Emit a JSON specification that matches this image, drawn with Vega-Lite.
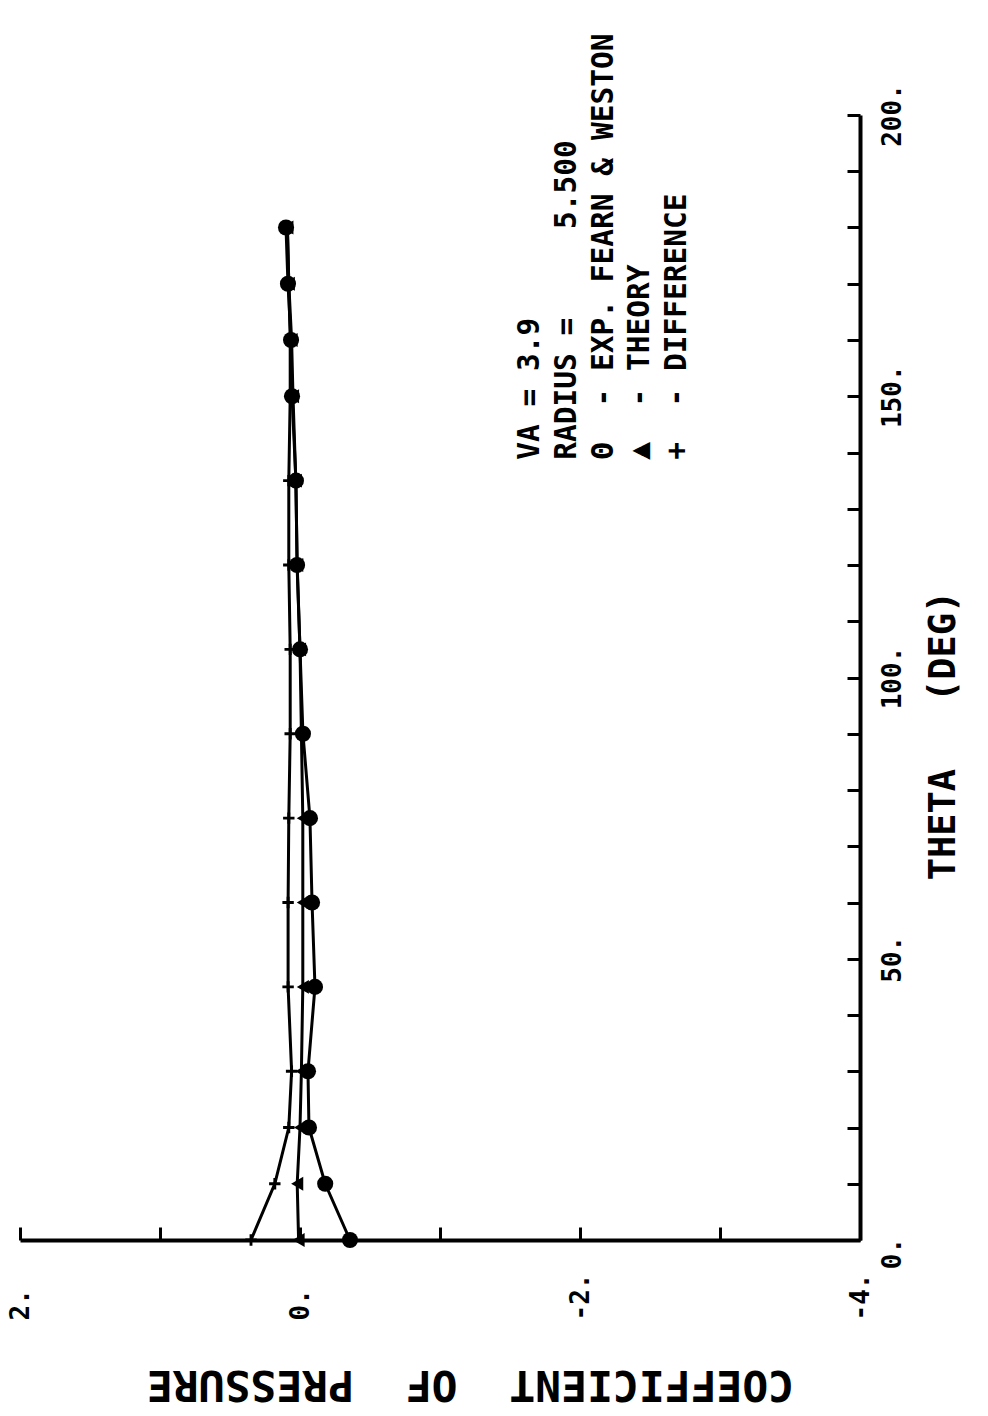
{
  "$schema": "https://vega.github.io/schema/vega-lite/v6.json",
  "width": 840,
  "height": 1125,
  "autosize": {"type": "none"},
  "padding": {"left": 20, "top": 115, "right": 128, "bottom": 176},
  "background": "white",
  "config": {"view": {"stroke": null}, "font": "DejaVu Sans Mono"},
  "datasets": {
    "cp": [
      {"theta": 0, "series": "exp", "cp": -0.357},
      {"theta": 10, "series": "exp", "cp": -0.18},
      {"theta": 20, "series": "exp", "cp": -0.064},
      {"theta": 30, "series": "exp", "cp": -0.057},
      {"theta": 45, "series": "exp", "cp": -0.107},
      {"theta": 60, "series": "exp", "cp": -0.086},
      {"theta": 75, "series": "exp", "cp": -0.071},
      {"theta": 90, "series": "exp", "cp": -0.021},
      {"theta": 105, "series": "exp", "cp": 0.0},
      {"theta": 120, "series": "exp", "cp": 0.021},
      {"theta": 135, "series": "exp", "cp": 0.029},
      {"theta": 150, "series": "exp", "cp": 0.057},
      {"theta": 160, "series": "exp", "cp": 0.064},
      {"theta": 170, "series": "exp", "cp": 0.086},
      {"theta": 180, "series": "exp", "cp": 0.1},
      {"theta": 0, "series": "theory", "cp": 0.01},
      {"theta": 10, "series": "theory", "cp": 0.02},
      {"theta": 20, "series": "theory", "cp": 0.0},
      {"theta": 30, "series": "theory", "cp": -0.01},
      {"theta": 45, "series": "theory", "cp": -0.02},
      {"theta": 60, "series": "theory", "cp": -0.02},
      {"theta": 75, "series": "theory", "cp": -0.02},
      {"theta": 90, "series": "theory", "cp": -0.01},
      {"theta": 105, "series": "theory", "cp": 0.0},
      {"theta": 120, "series": "theory", "cp": 0.02},
      {"theta": 135, "series": "theory", "cp": 0.03},
      {"theta": 150, "series": "theory", "cp": 0.05},
      {"theta": 160, "series": "theory", "cp": 0.06},
      {"theta": 170, "series": "theory", "cp": 0.08},
      {"theta": 180, "series": "theory", "cp": 0.09},
      {"theta": 0, "series": "diff", "cp": 0.35},
      {"theta": 10, "series": "diff", "cp": 0.18},
      {"theta": 20, "series": "diff", "cp": 0.08},
      {"theta": 30, "series": "diff", "cp": 0.06},
      {"theta": 45, "series": "diff", "cp": 0.085},
      {"theta": 60, "series": "diff", "cp": 0.085},
      {"theta": 75, "series": "diff", "cp": 0.08},
      {"theta": 90, "series": "diff", "cp": 0.07},
      {"theta": 105, "series": "diff", "cp": 0.07},
      {"theta": 120, "series": "diff", "cp": 0.08},
      {"theta": 135, "series": "diff", "cp": 0.08},
      {"theta": 150, "series": "diff", "cp": 0.07},
      {"theta": 160, "series": "diff", "cp": 0.07},
      {"theta": 170, "series": "diff", "cp": 0.08},
      {"theta": 180, "series": "diff", "cp": 0.09}
    ],
    "note": [
      {"line": 0, "label": "VA = 3.9"},
      {"line": 1, "label": "RADIUS =\u00a0\u00a0\u00a0\u00a0\u00a05.500"},
      {"line": 2, "label": "Θ\u00a0\u00a0- EXP. FEARN & WESTON"},
      {"line": 3, "label": "▲\u00a0\u00a0- THEORY"},
      {"line": 4, "label": "+\u00a0\u00a0- DIFFERENCE"}
    ]
  },
  "layer": [
    {
      "data": {"name": "cp"},
      "mark": {"type": "line", "color": "black", "strokeWidth": 3},
      "encoding": {
        "x": {
          "field": "cp",
          "type": "quantitative",
          "scale": {"domain": [-4, 2], "reverse": true, "nice": false, "zero": false},
          "axis": {
            "orient": "bottom",
            "values": [-4, -3, -2, -1, 0, 1, 2],
            "labelExpr": "datum.value % 2 == 0 ? datum.value + '.' : ''",
            "labelAngle": 270,
            "labelAlign": "left",
            "labelBaseline": "middle",
            "labelPadding": 93,
            "labelOverlap": false,
            "labelBound": false,
            "labelFlush": false,
            "labelFont": "DejaVu Sans Mono",
            "labelFontSize": 26,
            "labelFontWeight": "bold",
            "labelColor": "black",
            "tickSize": -13,
            "tickWidth": 3,
            "tickColor": "black",
            "domainColor": "black",
            "domainWidth": 4,
            "grid": false,
            "title": "COEFFICIENT\u00a0\u00a0OF\u00a0\u00a0PRESSURE",
            "titleAngle": 180,
            "titleX": 450,
            "titleY": 143,
            "titleAlign": "center",
            "titleBaseline": "middle",
            "titleFont": "DejaVu Sans Mono",
            "titleFontSize": 43,
            "titleFontWeight": "bold",
            "titleColor": "black"
          }
        },
        "y": {
          "field": "theta",
          "type": "quantitative",
          "scale": {"domain": [0, 200], "nice": false, "zero": false},
          "axis": {
            "orient": "right",
            "values": [0, 10, 20, 30, 40, 50, 60, 70, 80, 90, 100, 110, 120, 130, 140, 150, 160, 170, 180, 190, 200],
            "labelExpr": "datum.value % 50 == 0 ? datum.value + '.' : ''",
            "labelAngle": 270,
            "labelAlign": "center",
            "labelBaseline": "top",
            "labelPadding": 32,
            "labelOffset": {"condition": {"test": "datum.value == 0", "value": 13}, "value": 0},
            "labelOverlap": false,
            "labelBound": false,
            "labelFlush": false,
            "labelFont": "DejaVu Sans Mono",
            "labelFontSize": 26,
            "labelFontWeight": "bold",
            "labelColor": "black",
            "tickSize": -13,
            "tickWidth": 3,
            "tickColor": "black",
            "domainColor": "black",
            "domainWidth": 4,
            "grid": false,
            "title": "THETA\u00a0\u00a0\u00a0(DEG)",
            "titleAngle": 270,
            "titleX": 83,
            "titleY": 620,
            "titleAlign": "center",
            "titleBaseline": "middle",
            "titleFont": "DejaVu Sans Mono",
            "titleFontSize": 37,
            "titleFontWeight": "bold",
            "titleColor": "black"
          }
        },
        "detail": {"field": "series"},
        "order": {"field": "theta"}
      }
    },
    {
      "data": {"name": "cp"},
      "mark": {"type": "point", "filled": true, "color": "black", "opacity": 1},
      "encoding": {
        "x": {"field": "cp", "type": "quantitative"},
        "y": {"field": "theta", "type": "quantitative"},
        "shape": {
          "field": "series",
          "scale": {
            "domain": ["exp", "theory", "diff"],
            "range": ["circle", "triangle-left", "M-1,-0.25H1V0.25H-1Z M-0.25,-1H0.25V1H-0.25Z"]
          },
          "legend": null
        },
        "size": {
          "field": "series",
          "type": "nominal",
          "scale": {"domain": ["exp", "theory", "diff"], "range": [260, 130, 230]},
          "legend": null
        }
      }
    },
    {
      "data": {"name": "note"},
      "mark": {
        "type": "text",
        "angle": 270,
        "align": "left",
        "baseline": "top",
        "font": "DejaVu Sans Mono",
        "fontSize": 29.5,
        "fontWeight": "bold",
        "color": "black"
      },
      "encoding": {
        "text": {"field": "label"},
        "x": {"datum": -1.543},
        "y": {"datum": 138.7},
        "xOffset": {"field": "line", "type": "quantitative", "scale": {"domain": [0, 4], "range": [0, 147]}, "legend": null}
      }
    }
  ]
}
